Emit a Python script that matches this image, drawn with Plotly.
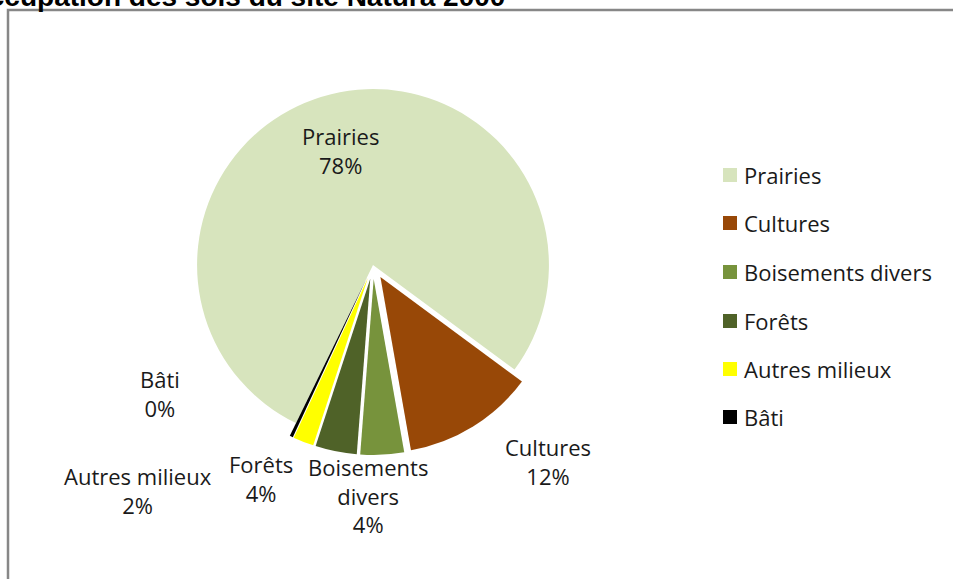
import plotly.graph_objects as go

W, H = 953, 579

title_text = "Occupation des sols du site Natura 2000"
labels = ["Prairies", "Cultures", "Boisements divers", "Forêts", "Autres milieux", "Bâti"]
values = [77.9, 12.1, 4.0, 3.8, 1.9, 0.3]
colors = ["#D7E4BD", "#984807", "#77933C", "#4F6228", "#FFFF00", "#000000"]
pulls = [0.0, 0.08, 0.08, 0.08, 0.08, 0.08]
# label anchor positions (pixels from top-left) as laid out in the reference
label_xy = [(340, 150), (548, 462), (368, 495), (261, 478), (138, 490), (160, 393)]

total = sum(values)
pcts = [round(v / total * 100) for v in values]
disp = [l.replace(" ", "<br>") if len(l) > 15 else l for l in labels]
texts = [f"{d}<br>{p}%" for d, p in zip(disp, pcts)]

FONT = "Open Sans"
TXT = "#1a1a1a"
FS = 22

fig = go.Figure()
fig.add_trace(go.Pie(
    labels=labels,
    values=values,
    textinfo="none",
    marker=dict(colors=colors, line=dict(width=0)),
    pull=pulls,
    sort=False,
    direction="clockwise",
    rotation=206,
    showlegend=False,
    domain=dict(x=[183 / W, 563 / W], y=[1 - 455 / H, 1 - 75 / H]),
    hoverinfo="label+percent",
))

shapes = []
annotations = []
# border
shapes.append(dict(type="rect", xref="paper", yref="paper",
                   x0=8 / W, x1=1.2, y0=-0.2, y1=1 - 10 / H,
                   line=dict(color="#878787", width=2.5), fillcolor="rgba(0,0,0,0)"))
# data labels
for t, (lx, ly) in zip(texts, label_xy):
    annotations.append(dict(xref="paper", yref="paper", x=lx / W, y=1 - ly / H,
                            xanchor="center", yanchor="middle", showarrow=False,
                            text=t, align="center",
                            font=dict(family=FONT, size=FS, color=TXT)))
# manual legend
leg_y = [175, 223, 272, 321, 369, 417]
for lab, col, yy in zip(labels, colors, leg_y):
    shapes.append(dict(type="rect", xref="paper", yref="paper",
                       x0=723 / W, x1=737 / W, y0=1 - (yy + 7) / H, y1=1 - (yy - 7) / H,
                       line=dict(width=0), fillcolor=col))
    annotations.append(dict(xref="paper", yref="paper", x=742 / W, y=1 - yy / H,
                            xanchor="left", yanchor="middle", showarrow=False,
                            text=lab, font=dict(family=FONT, size=FS, color=TXT)))
# title (cropped at top-left in the reference)
annotations.append(dict(xref="paper", yref="paper", x=507 / W, y=1 - 14 / H,
                        xanchor="right", yanchor="bottom", showarrow=False,
                        text=f"<b>{title_text}</b>",
                        font=dict(family="Liberation Sans", size=28, color="#000000")))

fig.update_layout(
    width=W, height=H,
    autosize=False,
    margin=dict(l=0, r=0, t=0, b=0, pad=0),
    paper_bgcolor="white",
    plot_bgcolor="white",
    shapes=shapes,
    annotations=annotations,
    showlegend=False,
)

fig.write_html("out.html", config={"responsive": False, "displayModeBar": False},
               post_script="document.body.style.margin='0';document.body.style.padding='0';")
